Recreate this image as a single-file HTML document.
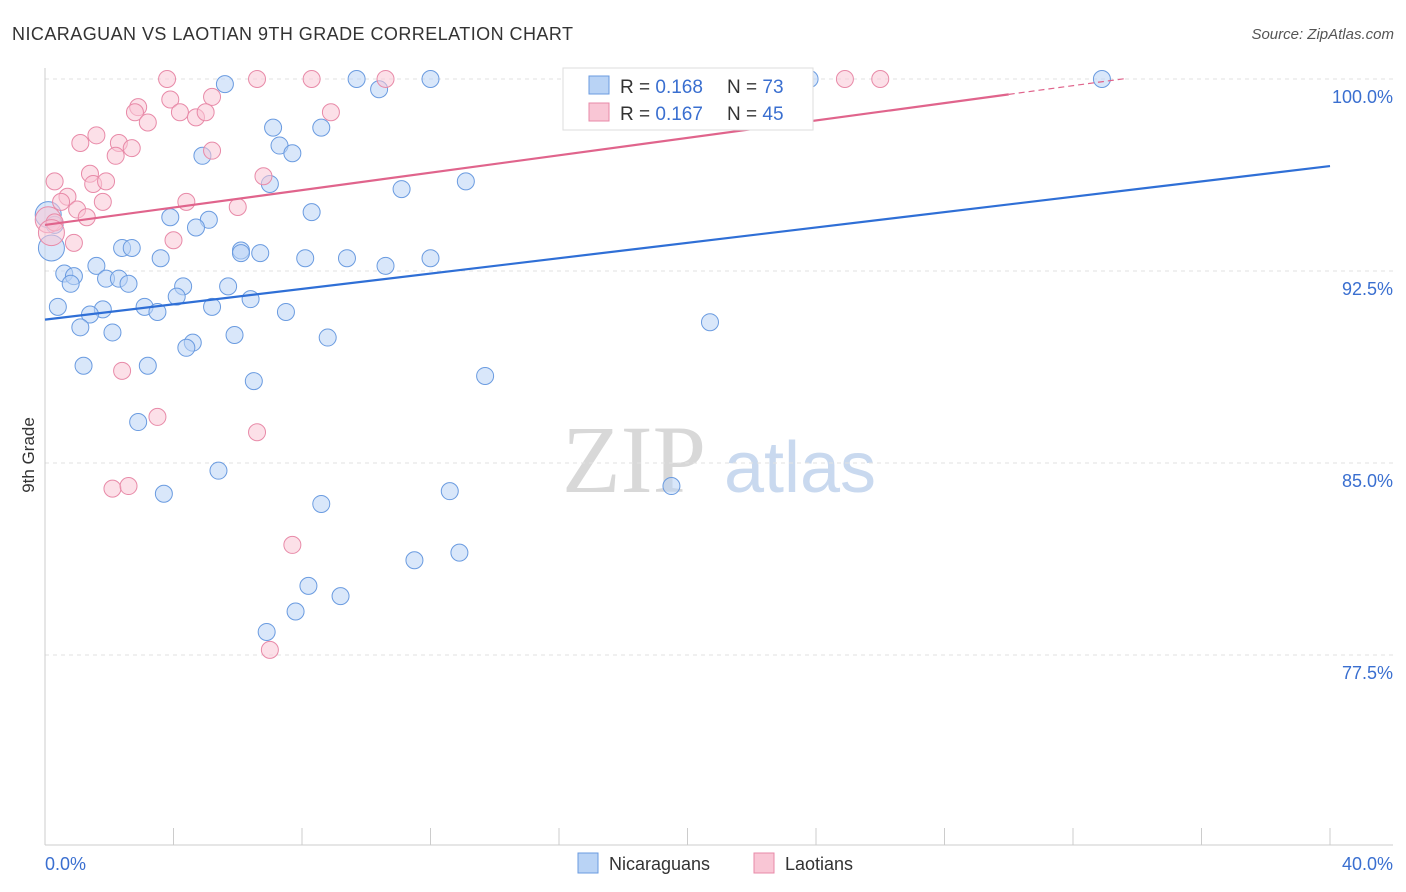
<!DOCTYPE html>
<html><head><meta charset="utf-8"><style>
body{margin:0;background:#fff;font-family:"Liberation Sans",sans-serif}
svg{display:block}
</style></head><body>
<svg width="1406" height="892" xmlns="http://www.w3.org/2000/svg">
<text x="12" y="40" font-size="18" fill="#333" textLength="561">NICARAGUAN VS LAOTIAN 9TH GRADE CORRELATION CHART</text>
<text x="1394" y="39" font-size="15" fill="#555" text-anchor="end" font-style="italic">Source: ZipAtlas.com</text>
<g>
<text x="634" y="492" font-size="96" fill="#d8d8d8" text-anchor="middle" font-family="Liberation Serif,serif">ZIP</text>
<text x="800" y="492" font-size="72" fill="#c9d9ef" text-anchor="middle">atlas</text>
</g>
<g id="grid"></g>
<g id="axes"></g>
<g id="pts"></g>
<g id="lines"></g>
<text x="34" y="455" font-size="17" fill="#333" text-anchor="middle" transform="rotate(-90 34 455)">9th Grade</text>
<g>
<rect x="563" y="68" width="250" height="62" fill="#fff" stroke="#ddd"/>
<rect x="589" y="76" width="20" height="18" fill="#b9d3f5" stroke="#6a9be0"/>
<rect x="589" y="103" width="20" height="18" fill="#f9c6d5" stroke="#e88aa8"/>
<text x="620" y="93" font-size="19" fill="#333">R = <tspan fill="#3a6fd0">0.168</tspan></text>
<text x="727" y="93" font-size="19" fill="#333">N = <tspan fill="#3a6fd0">73</tspan></text>
<text x="620" y="120" font-size="19" fill="#333">R = <tspan fill="#3a6fd0">0.167</tspan></text>
<text x="727" y="120" font-size="19" fill="#333">N = <tspan fill="#3a6fd0">45</tspan></text>
</g>
<g>
<rect x="578" y="853" width="20" height="20" fill="#b9d3f5" stroke="#6a9be0"/>
<text x="609" y="870" font-size="18" fill="#333">Nicaraguans</text>
<rect x="754" y="853" width="20" height="20" fill="#f9c6d5" stroke="#e88aa8"/>
<text x="785" y="870" font-size="18" fill="#333">Laotians</text>
</g>
</svg>
<script>
const yTicks=[100,92.5,85,77.5];
const yTickLabels=["100.0%","92.5%","85.0%","77.5%"];
const xTickLabels=["0.0%","40.0%"];
const blueX=[16.9,9.7,12.0,21.0,23.8,32.9,5.6,10.4,7.1,8.6,7.3,7.7,4.9,7.0,11.1,13.1,8.3,3.9,5.1,4.7,0.1,0.3,0.2,2.4,2.7,6.1,6.1,6.7,3.6,8.1,9.4,12.0,10.6,1.6,0.6,0.9,1.9,2.3,0.8,2.6,4.3,5.7,4.1,6.4,0.4,1.8,3.1,3.5,5.2,1.4,7.5,1.1,2.1,5.9,8.8,4.6,4.4,20.7,1.2,3.2,6.5,13.7,2.9,5.4,3.7,12.6,19.5,8.6,11.5,12.9,8.2,9.2,7.8,6.9];
const blueY=[100,100,100,100,100,100,99.8,99.6,98.1,98.1,97.4,97.1,97.0,95.9,95.7,96.0,94.8,94.6,94.5,94.2,94.7,94.3,93.4,93.4,93.4,93.3,93.2,93.2,93.0,93.0,93.0,93.0,92.7,92.7,92.4,92.3,92.2,92.2,92.0,92.0,91.9,91.9,91.5,91.4,91.1,91.0,91.1,90.9,91.1,90.8,90.9,90.3,90.1,90.0,89.9,89.7,89.5,90.5,88.8,88.8,88.2,88.4,86.6,84.7,83.8,83.9,84.1,83.4,81.2,81.5,80.2,79.8,79.2,78.4];
const pinkX=[3.8,6.6,8.3,10.6,24.9,26.0,3.9,5.2,2.9,2.8,4.2,4.7,5.0,8.9,3.2,1.6,1.1,2.3,2.7,2.2,5.2,1.4,0.3,1.5,1.9,6.8,0.7,0.5,4.4,1.8,1.0,1.3,6.0,0.1,0.3,0.2,0.9,4.0,2.4,3.5,6.6,2.1,2.6,7.7,7.0];
const pinkY=[100,100,100,100,100,100,99.2,99.3,98.9,98.7,98.7,98.5,98.7,98.7,98.3,97.8,97.5,97.5,97.3,97.0,97.2,96.3,96.0,95.9,96.0,96.2,95.4,95.2,95.2,95.2,94.9,94.6,95.0,94.5,94.4,94.0,93.6,93.7,88.6,86.8,86.2,84.0,84.1,81.8,77.7];
const blueTrend=[90.6,96.6];
const pinkTrend=[94.3,0.17];
const NS="http://www.w3.org/2000/svg";
const X=v=>45+v/40*1285, Y=v=>79+(100-v)*25.6;
function mk(t,a,p){const e=document.createElementNS(NS,t);for(const k in a)e.setAttribute(k,a[k]);p.appendChild(e);return e;}
const grid=document.getElementById('grid'),axes=document.getElementById('axes');
yTicks.forEach((t,i)=>{
 const l=mk('line',{x1:45,x2:1393,y1:Y(t),y2:Y(t),stroke:'#e2e2e2','stroke-dasharray':'4,4'},grid);
 
 
 const tx=mk('text',{x:1393,y:Y(t)+24,'font-size':18,fill:'#3a6fd0','text-anchor':'end'},axes);
 tx.textContent=yTickLabels[i];
 
 
});
mk('line',{x1:45,x2:45,y1:68,y2:845,stroke:'#ccc'},axes);
mk('line',{x1:45,x2:1393,y1:845,y2:845,stroke:'#ccc'},axes);
for(let i=0;i<=10;i++){mk('line',{x1:X(i*4),x2:X(i*4),y1:828,y2:845,stroke:'#ccc'},axes);}
[[0,'start',45],[1,'end',1393]].forEach(([i,a,x])=>{const t=mk('text',{x:x,y:870,'font-size':18,fill:'#3a6fd0','text-anchor':a},axes);t.textContent=xTickLabels[i];
 
 });
const pts=document.getElementById('pts');
function draw(xs,ys,fill,stroke,name){xs.forEach((x,i)=>{const r=(x<=0.2)?13:8.5;
 const c=mk('circle',{cx:X(x),cy:Y(ys[i]),r:r,fill:fill,'fill-opacity':0.55,stroke:stroke,'stroke-width':1},pts);
 
 });}
draw(blueX,blueY,'#b9d3f5','#6a9be0','nicaraguan-point');
draw(pinkX,pinkY,'#f9c6d5','#e88aa8','laotian-point');
const lines=document.getElementById('lines');
const bl=mk('line',{x1:X(0),y1:Y(blueTrend[0]),x2:X(40),y2:Y(blueTrend[1]),stroke:'#2f6fd6','stroke-width':2.2},lines);


const pf=x=>pinkTrend[0]+pinkTrend[1]*x;
const pl=mk('line',{x1:X(0),y1:Y(pf(0)),x2:X(30),y2:Y(pf(30)),stroke:'#e0648c','stroke-width':2.2},lines);


const pd=mk('line',{x1:X(30),y1:Y(pf(30)),x2:X(33.6),y2:Y(pf(33.6)),stroke:'#e0648c','stroke-width':1.2,'stroke-dasharray':'6,4'},lines);


</script>
</body></html>
